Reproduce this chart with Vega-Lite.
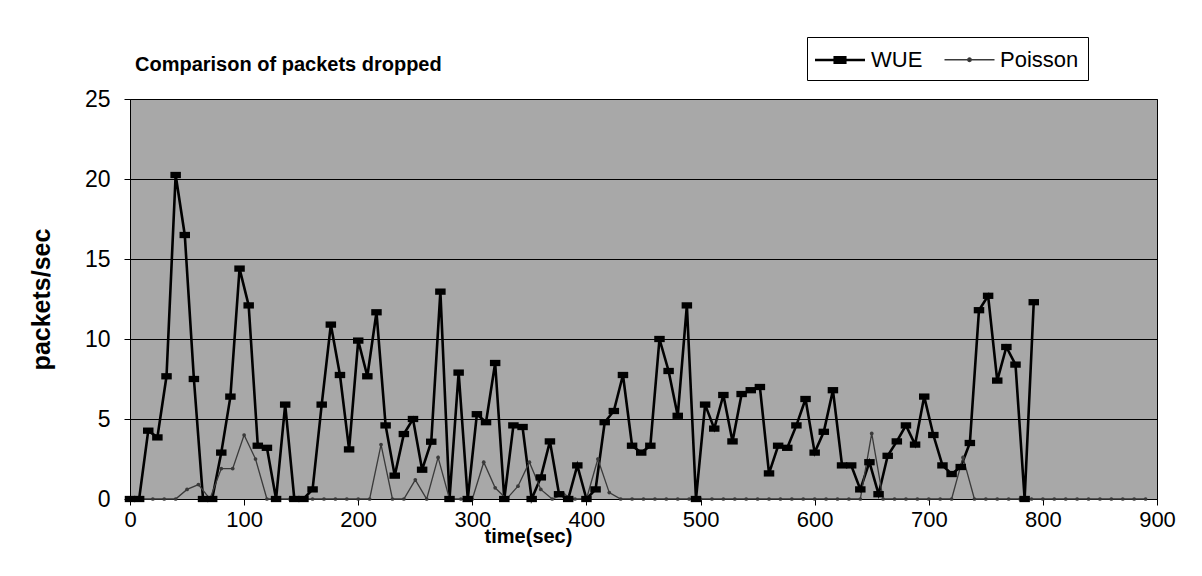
{
  "$schema": "https://vega.github.io/schema/vega-lite/v6.json",
  "autosize": "none",
  "width": 1027,
  "height": 400,
  "padding": {"left": 130, "top": 99, "right": 45, "bottom": 77},
  "background": "#ffffff",
  "title": {
    "text": "Comparison of packets dropped",
    "anchor": "start",
    "frame": "group",
    "dx": 5,
    "dy": 38,
    "offset": 0,
    "font": "Liberation Sans",
    "fontSize": 20,
    "fontWeight": "bold",
    "color": "#000000"
  },
  "data": {
    "values": [
      {"t": 0, "v": 0, "s": "WUE"}, {"t": 8, "v": 0, "s": "WUE"}, {"t": 16, "v": 4.27, "s": "WUE"}, {"t": 24, "v": 3.85, "s": "WUE"},
      {"t": 32, "v": 7.67, "s": "WUE"}, {"t": 40, "v": 20.25, "s": "WUE"}, {"t": 48, "v": 16.5, "s": "WUE"}, {"t": 56, "v": 7.5, "s": "WUE"},
      {"t": 64, "v": 0, "s": "WUE"}, {"t": 72, "v": 0, "s": "WUE"}, {"t": 80, "v": 2.9, "s": "WUE"}, {"t": 88, "v": 6.4, "s": "WUE"},
      {"t": 96, "v": 14.4, "s": "WUE"}, {"t": 104, "v": 12.1, "s": "WUE"}, {"t": 112, "v": 3.33, "s": "WUE"}, {"t": 120, "v": 3.2, "s": "WUE"},
      {"t": 128, "v": 0, "s": "WUE"}, {"t": 136, "v": 5.9, "s": "WUE"}, {"t": 144, "v": 0, "s": "WUE"}, {"t": 152, "v": 0, "s": "WUE"},
      {"t": 160, "v": 0.6, "s": "WUE"}, {"t": 168, "v": 5.9, "s": "WUE"}, {"t": 176, "v": 10.9, "s": "WUE"}, {"t": 184, "v": 7.75, "s": "WUE"},
      {"t": 192, "v": 3.1, "s": "WUE"}, {"t": 200, "v": 9.9, "s": "WUE"}, {"t": 208, "v": 7.67, "s": "WUE"}, {"t": 216, "v": 11.67, "s": "WUE"},
      {"t": 224, "v": 4.6, "s": "WUE"}, {"t": 232, "v": 1.46, "s": "WUE"}, {"t": 240, "v": 4.06, "s": "WUE"}, {"t": 248, "v": 5.0, "s": "WUE"},
      {"t": 256, "v": 1.83, "s": "WUE"}, {"t": 264, "v": 3.58, "s": "WUE"}, {"t": 272, "v": 12.96, "s": "WUE"}, {"t": 280, "v": 0, "s": "WUE"},
      {"t": 288, "v": 7.9, "s": "WUE"}, {"t": 296, "v": 0, "s": "WUE"}, {"t": 304, "v": 5.3, "s": "WUE"}, {"t": 312, "v": 4.8, "s": "WUE"},
      {"t": 320, "v": 8.5, "s": "WUE"}, {"t": 328, "v": 0, "s": "WUE"}, {"t": 336, "v": 4.6, "s": "WUE"}, {"t": 344, "v": 4.5, "s": "WUE"},
      {"t": 352, "v": 0, "s": "WUE"}, {"t": 360, "v": 1.35, "s": "WUE"}, {"t": 368, "v": 3.6, "s": "WUE"}, {"t": 376, "v": 0.3, "s": "WUE"},
      {"t": 384, "v": 0, "s": "WUE"}, {"t": 392, "v": 2.1, "s": "WUE"}, {"t": 400, "v": 0, "s": "WUE"}, {"t": 408, "v": 0.6, "s": "WUE"},
      {"t": 416, "v": 4.8, "s": "WUE"}, {"t": 424, "v": 5.5, "s": "WUE"}, {"t": 432, "v": 7.75, "s": "WUE"}, {"t": 440, "v": 3.33, "s": "WUE"},
      {"t": 448, "v": 2.9, "s": "WUE"}, {"t": 456, "v": 3.33, "s": "WUE"}, {"t": 464, "v": 10.0, "s": "WUE"}, {"t": 472, "v": 8.0, "s": "WUE"},
      {"t": 480, "v": 5.2, "s": "WUE"}, {"t": 488, "v": 12.1, "s": "WUE"}, {"t": 496, "v": 0, "s": "WUE"}, {"t": 504, "v": 5.9, "s": "WUE"},
      {"t": 512, "v": 4.4, "s": "WUE"}, {"t": 520, "v": 6.5, "s": "WUE"}, {"t": 528, "v": 3.6, "s": "WUE"}, {"t": 536, "v": 6.56, "s": "WUE"},
      {"t": 544, "v": 6.8, "s": "WUE"}, {"t": 552, "v": 7.0, "s": "WUE"}, {"t": 560, "v": 1.6, "s": "WUE"}, {"t": 568, "v": 3.33, "s": "WUE"},
      {"t": 576, "v": 3.2, "s": "WUE"}, {"t": 584, "v": 4.6, "s": "WUE"}, {"t": 592, "v": 6.25, "s": "WUE"}, {"t": 600, "v": 2.9, "s": "WUE"},
      {"t": 608, "v": 4.2, "s": "WUE"}, {"t": 616, "v": 6.8, "s": "WUE"}, {"t": 624, "v": 2.1, "s": "WUE"}, {"t": 632, "v": 2.1, "s": "WUE"},
      {"t": 640, "v": 0.6, "s": "WUE"}, {"t": 648, "v": 2.3, "s": "WUE"}, {"t": 656, "v": 0.3, "s": "WUE"}, {"t": 664, "v": 2.7, "s": "WUE"},
      {"t": 672, "v": 3.6, "s": "WUE"}, {"t": 680, "v": 4.6, "s": "WUE"}, {"t": 688, "v": 3.4, "s": "WUE"}, {"t": 696, "v": 6.4, "s": "WUE"},
      {"t": 704, "v": 4.0, "s": "WUE"}, {"t": 712, "v": 2.1, "s": "WUE"}, {"t": 720, "v": 1.56, "s": "WUE"}, {"t": 728, "v": 2.0, "s": "WUE"},
      {"t": 736, "v": 3.5, "s": "WUE"}, {"t": 744, "v": 11.8, "s": "WUE"}, {"t": 752, "v": 12.7, "s": "WUE"}, {"t": 760, "v": 7.4, "s": "WUE"},
      {"t": 768, "v": 9.5, "s": "WUE"}, {"t": 776, "v": 8.4, "s": "WUE"}, {"t": 784, "v": 0, "s": "WUE"}, {"t": 792, "v": 12.3, "s": "WUE"},

      {"t": 0, "v": 0, "s": "Poisson"}, {"t": 10, "v": 0, "s": "Poisson"}, {"t": 20, "v": 0, "s": "Poisson"}, {"t": 30, "v": 0, "s": "Poisson"},
      {"t": 40, "v": 0, "s": "Poisson"}, {"t": 50, "v": 0.6, "s": "Poisson"}, {"t": 60, "v": 0.9, "s": "Poisson"}, {"t": 70, "v": 0, "s": "Poisson"},
      {"t": 80, "v": 1.9, "s": "Poisson"}, {"t": 90, "v": 1.9, "s": "Poisson"}, {"t": 100, "v": 4.0, "s": "Poisson"}, {"t": 110, "v": 2.5, "s": "Poisson"},
      {"t": 120, "v": 0, "s": "Poisson"}, {"t": 130, "v": 0, "s": "Poisson"}, {"t": 140, "v": 0, "s": "Poisson"}, {"t": 150, "v": 0, "s": "Poisson"},
      {"t": 160, "v": 0, "s": "Poisson"}, {"t": 170, "v": 0, "s": "Poisson"}, {"t": 180, "v": 0, "s": "Poisson"}, {"t": 190, "v": 0, "s": "Poisson"},
      {"t": 200, "v": 0, "s": "Poisson"}, {"t": 210, "v": 0, "s": "Poisson"}, {"t": 220, "v": 3.4, "s": "Poisson"}, {"t": 230, "v": 0, "s": "Poisson"},
      {"t": 240, "v": 0, "s": "Poisson"}, {"t": 250, "v": 1.2, "s": "Poisson"}, {"t": 260, "v": 0, "s": "Poisson"}, {"t": 270, "v": 2.6, "s": "Poisson"},
      {"t": 280, "v": 0, "s": "Poisson"}, {"t": 290, "v": 0, "s": "Poisson"}, {"t": 300, "v": 0, "s": "Poisson"}, {"t": 310, "v": 2.3, "s": "Poisson"},
      {"t": 320, "v": 0.7, "s": "Poisson"}, {"t": 330, "v": 0, "s": "Poisson"}, {"t": 340, "v": 0.8, "s": "Poisson"}, {"t": 350, "v": 2.3, "s": "Poisson"},
      {"t": 360, "v": 0.6, "s": "Poisson"}, {"t": 370, "v": 0, "s": "Poisson"}, {"t": 380, "v": 0.3, "s": "Poisson"}, {"t": 390, "v": 0, "s": "Poisson"},
      {"t": 400, "v": 0, "s": "Poisson"}, {"t": 410, "v": 2.5, "s": "Poisson"}, {"t": 420, "v": 0.4, "s": "Poisson"}, {"t": 430, "v": 0, "s": "Poisson"},
      {"t": 440, "v": 0, "s": "Poisson"}, {"t": 450, "v": 0, "s": "Poisson"}, {"t": 460, "v": 0, "s": "Poisson"}, {"t": 470, "v": 0, "s": "Poisson"},
      {"t": 480, "v": 0, "s": "Poisson"}, {"t": 490, "v": 0, "s": "Poisson"}, {"t": 500, "v": 0, "s": "Poisson"}, {"t": 510, "v": 0, "s": "Poisson"},
      {"t": 520, "v": 0, "s": "Poisson"}, {"t": 530, "v": 0, "s": "Poisson"}, {"t": 540, "v": 0, "s": "Poisson"}, {"t": 550, "v": 0, "s": "Poisson"},
      {"t": 560, "v": 0, "s": "Poisson"}, {"t": 570, "v": 0, "s": "Poisson"}, {"t": 580, "v": 0, "s": "Poisson"}, {"t": 590, "v": 0, "s": "Poisson"},
      {"t": 600, "v": 0, "s": "Poisson"}, {"t": 610, "v": 0, "s": "Poisson"}, {"t": 620, "v": 0, "s": "Poisson"}, {"t": 630, "v": 0, "s": "Poisson"},
      {"t": 640, "v": 0, "s": "Poisson"}, {"t": 650, "v": 4.1, "s": "Poisson"}, {"t": 660, "v": 0, "s": "Poisson"}, {"t": 670, "v": 0, "s": "Poisson"},
      {"t": 680, "v": 0, "s": "Poisson"}, {"t": 690, "v": 0, "s": "Poisson"}, {"t": 700, "v": 0, "s": "Poisson"}, {"t": 710, "v": 0, "s": "Poisson"},
      {"t": 720, "v": 0, "s": "Poisson"}, {"t": 730, "v": 2.6, "s": "Poisson"}, {"t": 740, "v": 0, "s": "Poisson"}, {"t": 750, "v": 0, "s": "Poisson"},
      {"t": 760, "v": 0, "s": "Poisson"}, {"t": 770, "v": 0, "s": "Poisson"}, {"t": 780, "v": 0, "s": "Poisson"}, {"t": 790, "v": 0, "s": "Poisson"},
      {"t": 800, "v": 0, "s": "Poisson"}, {"t": 810, "v": 0, "s": "Poisson"}, {"t": 820, "v": 0, "s": "Poisson"}, {"t": 830, "v": 0, "s": "Poisson"},
      {"t": 840, "v": 0, "s": "Poisson"}, {"t": 850, "v": 0, "s": "Poisson"}, {"t": 860, "v": 0, "s": "Poisson"}, {"t": 870, "v": 0, "s": "Poisson"},
      {"t": 880, "v": 0, "s": "Poisson"}, {"t": 890, "v": 0, "s": "Poisson"}
    ]
  },
  "encoding": {
    "x": {
      "field": "t",
      "type": "quantitative",
      "scale": {"domain": [0, 900], "nice": false, "zero": false},
      "axis": {
        "values": [0, 100, 200, 300, 400, 500, 600, 700, 800, 900],
        "title": "time(sec)",
        "titleX": 398,
        "titleY": 27,
        "titleAlign": "center",
        "titleFont": "Liberation Sans",
        "titleFontSize": 20,
        "titleFontWeight": "bold",
        "titleColor": "#000000",
        "labelFont": "Liberation Sans",
        "labelFontSize": 22,
        "labelColor": "#000000",
        "labelFlush": false,
        "labelPadding": 4,
        "tickSize": 6,
        "tickColor": "#000000",
        "domainColor": "#000000",
        "grid": false
      }
    },
    "y": {
      "field": "v",
      "type": "quantitative",
      "scale": {"domain": [0, 25], "nice": false},
      "axis": {
        "values": [0, 5, 10, 15, 20, 25],
        "title": "packets/sec",
        "titleFont": "Liberation Sans",
        "titleFontSize": 25,
        "titleFontWeight": "bold",
        "titleColor": "#000000",
        "titlePadding": 30,
        "labelFont": "Liberation Sans",
        "labelFontSize": 23,
        "labelColor": "#000000",
        "labelPadding": 14,
        "tickSize": 6,
        "tickColor": "#000000",
        "domainColor": "#000000",
        "grid": true,
        "gridColor": "#000000",
        "gridWidth": 1,
        "gridOpacity": 1
      }
    }
  },
  "layer": [
    {
      "mark": {"type": "line"},
      "encoding": {
        "detail": {"field": "s", "type": "nominal"},
        "color": {
          "field": "s",
          "type": "nominal",
          "title": null,
          "sort": ["WUE", "Poisson"],
          "scale": {"domain": ["WUE", "Poisson"], "range": ["#000000", "#3a3a3a"]},
          "legend": {
            "orient": "none",
            "legendX": 677,
            "legendY": -62,
            "direction": "horizontal",
            "fillColor": "#ffffff",
            "strokeColor": "#000000",
            "padding": 9,
            "labelFont": "Liberation Sans",
            "labelFontSize": 22,
            "labelColor": "#000000",
            "labelOffset": 27,
            "columnPadding": 18,
            "symbolSize": 625,
            "symbolStrokeWidth": 1.4,
            "symbolStrokeColor": "#000000",
            "encode": {
              "symbols": {
                "update": {
                  "shape": {"signal": "datum.value === 'WUE' ? 'M-1.2,0H2.8M0.38,-0.22H1.22V0.22H0.38Z' : 'M-1.2,0H2.8M0.66,0A0.14,0.14 0 1,0 0.94,0A0.14,0.14 0 1,0 0.66,0Z'"},
                  "stroke": {"value": "#000000"},
                  "fill": {"value": "#000000"},
                  "strokeWidth": {"value": 1.4},
                  "opacity": {"value": 1}
                }
              }
            }
          }
        },
        "strokeWidth": {
          "field": "s",
          "type": "nominal",
          "title": null,
          "scale": {"domain": ["WUE", "Poisson"], "range": [2.6, 1.3]},
          "legend": null
        }
      }
    },
    {
      "transform": [{"filter": "datum.s === 'Poisson'"}],
      "mark": {"type": "point", "filled": true, "opacity": 1, "color": "#3a3a3a", "shape": "circle", "size": 14},
      "encoding": {}
    },
    {
      "transform": [{"filter": "datum.s === 'WUE'"}],
      "mark": {"type": "point", "filled": true, "opacity": 1, "color": "#000000", "shape": "M-1,-0.6H1V0.6H-1Z", "size": 110},
      "encoding": {}
    }
  ],
  "config": {
    "view": {"fill": "#a8a8a8", "stroke": "#000000", "strokeWidth": 1}
  }
}
